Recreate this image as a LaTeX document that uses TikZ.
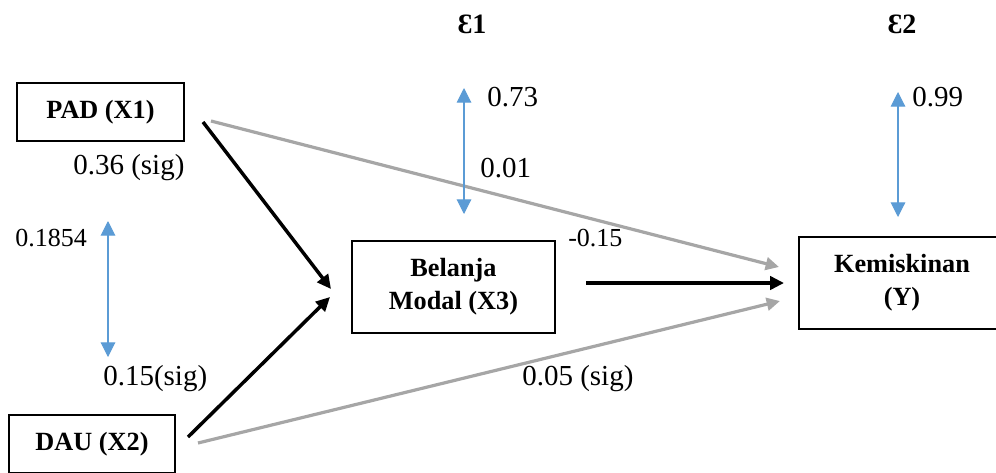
\documentclass[tikz,border=0pt]{standalone}
\usepackage{fontspec}
\setmainfont{Liberation Serif}
\usetikzlibrary{arrows.meta}
\definecolor{pathgray}{HTML}{A6A6A6}
\definecolor{corblue}{HTML}{5B9BD5}
\begin{document}
\begin{tikzpicture}[x=0.75pt,y=-0.75pt,
  varbox/.style={draw=black,line width=1.5pt,inner sep=0pt,align=center,
    font=\fontsize{19.7}{24.75}\selectfont\bfseries},
  lbl/.style={inner sep=0pt,font=\fontsize{21.75}{26}\selectfont},
  lblsmall/.style={inner sep=0pt,font=\fontsize{19.5}{24}\selectfont},
  epslbl/.style={inner sep=0pt,font=\fontsize{21}{26}\selectfont\bfseries},
  blackpath/.style={line width=2.6pt,-{Triangle[length=10.5pt,width=10pt]}},
  graypath/.style={pathgray,line width=2.4pt,-{Triangle[length=10pt,width=9.5pt]}},
  corr/.style={corblue,line width=0.8pt,{Triangle[length=11pt,width=11pt]}-{Triangle[length=11pt,width=11pt]}}]
\useasboundingbox (0,0) rectangle (996,472);
\clip (0,0) rectangle (996,472);
% boxes
\node[varbox,minimum width=167*0.75pt,minimum height=58*0.75pt] (pad) at (100.5,112) {PAD (X1)};
\node[varbox,minimum width=166*0.75pt,minimum height=58*0.75pt] (dau) at (92,444) {DAU (X2)};
\node[varbox,minimum width=203*0.75pt,minimum height=92*0.75pt] (bm) at (453.5,287) {Belanja\\Modal (X3)};
\node[varbox,minimum width=206*0.75pt,minimum height=92*0.75pt] (kem) at (902,283) {Kemiskinan\\(Y)};
% connector end points
\coordinate (padA) at (203,122);
\coordinate (padB) at (211,121);
\coordinate (dauA) at (188,437);
\coordinate (dauB) at (198,443);
\coordinate (bmIn1) at (331,289);
\coordinate (bmIn2) at (330,297);
\coordinate (bmOut) at (586,283);
\coordinate (kemIn1) at (779,267);
\coordinate (kemIn2) at (784,283);
\coordinate (kemIn3) at (780,301);
% paths
\draw[graypath] (padB) -- (kemIn1);
\draw[graypath] (dauB) -- (kemIn3);
\draw[blackpath] (padA) -- (bmIn1);
\draw[blackpath] (dauA) -- (bmIn2);
\draw[blackpath] (bmOut) -- (kemIn2);
% correlation / error arrows
\coordinate (c1t) at (108,221);
\coordinate (c1b) at (108,357);
\coordinate (e1t) at (464,88);
\coordinate (e1b) at (464,214);
\coordinate (e2t) at (898,92);
\coordinate (e2b) at (898,217);
\draw[corr] (c1t) -- (c1b);
\draw[corr] (e1t) -- (e1b);
\draw[corr] (e2t) -- (e2b);
% labels
\node[epslbl] (eps1) at (472,24) {Ɛ1};
\node[epslbl] (eps2) at (902,24) {Ɛ2};
\node[lbl,anchor=west] (l036) at (73,168) {0.36 (sig)};
\node[lblsmall,anchor=west] (l1854) at (15,238) {0.1854};
\node[lbl,anchor=west] (l015) at (103,379) {0.15(sig)};
\node[lbl,anchor=west] (l073) at (487,97) {0.73};
\node[lbl,anchor=west] (l001) at (480,168) {0.01};
\node[lblsmall,anchor=west] (lm015) at (568,238) {-0.15};
\node[lbl,anchor=west] (l099) at (912,97) {0.99};
\node[lbl,anchor=west] (l005) at (522,379) {0.05 (sig)};
\end{tikzpicture}
\end{document}
